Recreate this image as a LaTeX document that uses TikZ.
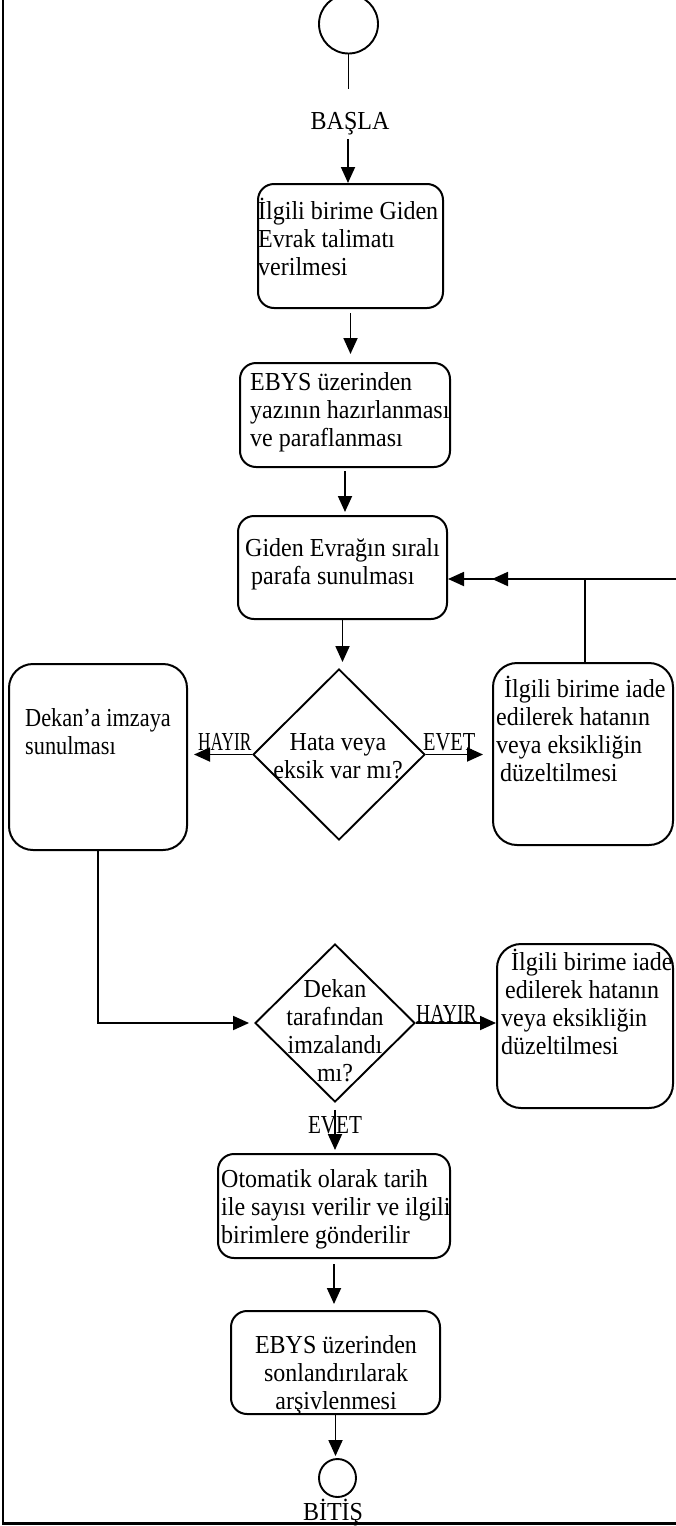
\documentclass[tikz,border=0pt]{standalone}
\usepackage{fontspec}
\usepackage{graphicx}
\setmainfont{Liberation Serif}
\usetikzlibrary{arrows.meta,shapes.geometric}
\newcommand{\TxtL}[1]{\scalebox{1}[1.08]{\begin{tabular}[t]{@{}l@{}}#1\end{tabular}}}
\newcommand{\TxtC}[1]{\scalebox{1}[1.08]{\begin{tabular}[t]{@{}c@{}}#1\end{tabular}}}
\newcommand{\Squeeze}[2]{\scalebox{#1}[1.08]{#2}}
\begin{document}
\begin{tikzpicture}[x=1pt,y=-1pt,
  font=\fontsize{24}{26}\selectfont,
  stepbox/.style={draw,line width=2pt,rounded corners=16pt,inner sep=0},
  bigbox/.style={draw,line width=2pt,rounded corners=24pt,inner sep=0},
  decision/.style={draw,diamond,line width=1.9pt,inner sep=0},
  terminal/.style={draw,ellipse,line width=1.9pt,inner sep=0},
  txt/.style={inner sep=0,anchor=base west},
  ctxt/.style={inner sep=0,anchor=base},
  conn/.style={line width=1.8pt},
  arr/.style={line width=1.8pt,-{Triangle[length=16pt,width=14pt]}}]
\useasboundingbox (0,0) rectangle (676,1526);

% frame
\coordinate (ftop) at (3,0);
\coordinate (fcorner) at (3,1523.5);
\coordinate (fright) at (676,1523.5);
\draw[line width=2.6pt] (ftop) -- (fcorner) -- (fright);

% start
\node[terminal,minimum width=59pt,minimum height=59pt] (start) at (348.5,24) {};
\coordinate (s1) at (348.5,89);
\node[ctxt] (basla) at (350,129) {\Squeeze{1}{BAŞLA}};
\coordinate (s2) at (348,139);

% box 1
\node[stepbox,minimum width=185pt,minimum height=124pt] (b1) at (350.5,246) {};
\node[txt] (t1) at (258,219) {\TxtL{İlgili birime Giden\\Evrak talimatı\\verilmesi}};

% box 2
\node[stepbox,minimum width=210pt,minimum height=104pt] (b2) at (345,415) {};
\node[txt] (t2) at (250,390) {\TxtL{EBYS üzerinden\\yazının hazırlanması\\ve paraflanması}};

% box 3
\node[stepbox,minimum width=209pt,minimum height=103pt] (b3) at (342.5,567.5) {};
\node[txt] (t3) at (245,556) {\TxtL{Giden Evrağın sıralı\\\hspace*{6pt}parafa sunulması}};

% decision 1
\node[decision,minimum width=172pt,minimum height=171pt] (d1) at (339,754.5) {};
\node[ctxt] (td1) at (338,750) {\TxtC{Hata veya\\eksik var mı?}};

% left box
\node[bigbox,minimum width=178pt,minimum height=186pt] (lb) at (98,757) {};
\node[txt] (tlb) at (25,726) {\scalebox{0.93}[1]{\TxtL{Dekan’a imzaya\\sunulması}}};

% right box 1
\node[bigbox,minimum width=180pt,minimum height=182pt] (rb1) at (583,754) {};
\node[txt] (trb1) at (496,697) {\TxtL{\hspace*{8pt}İlgili birime iade\\edilerek hatanın\\veya eksikliğin\\\hspace*{4pt}düzeltilmesi}};

% labels decision 1
\node[txt] (hayir1) at (198,750) {\Squeeze{0.72}{HAYIR}};
\node[txt] (evet1) at (423,750) {\Squeeze{0.85}{EVET}};

% decision 2
\node[decision,minimum width=160pt,minimum height=158pt] (d2) at (335,1023) {};
\node[ctxt] (td2) at (335,997) {\TxtC{Dekan\\tarafından\\imzalandı\\mı?}};
\node[txt] (hayir2) at (416,1022) {\Squeeze{0.82}{HAYIR}};

% right box 2
\node[bigbox,minimum width=176pt,minimum height=164pt] (rb2) at (585,1026) {};
\node[txt] (trb2) at (501,970) {\TxtL{\hspace*{10pt}İlgili birime iade\\\hspace*{4pt}edilerek hatanın\\veya eksikliğin\\düzeltilmesi}};

\node[ctxt] (evet2) at (335,1133) {\Squeeze{0.88}{EVET}};

% otomatik box
\node[stepbox,minimum width=232pt,minimum height=104pt] (ot) at (334,1206) {};
\node[txt] (tot) at (221,1187) {\TxtL{Otomatik olarak tarih\\ile sayısı verilir ve ilgili\\birimlere gönderilir}};

% final box
\node[stepbox,minimum width=209pt,minimum height=103pt] (fin) at (335.5,1362.5) {};
\node[ctxt] (tfin) at (336,1353) {\TxtC{EBYS üzerinden\\sonlandırılarak\\arşivlenmesi}};

% end
\node[terminal,minimum width=37pt,minimum height=38pt] (stop) at (337.5,1478) {};
\node[ctxt] (bitis) at (333,1520) {\Squeeze{1}{BİTİŞ}};

% connectors
\draw[conn] (start.south) -- (s1);
\draw[arr] (s2) -- (s2 |- b1.north);
\draw[arr,shorten <=4pt,shorten >=8pt] (b1.south) -- (b1.south |- b2.north);
\draw[arr,shorten <=3pt,shorten >=3pt] (b2.south) -- (b2.south |- b3.north);
\draw[arr,shorten >=6pt] (b3.south) -- (b3.south |- d1.north);
\draw[arr,shorten >=6pt] (d1.west) -- (d1.west -| lb.east);
\draw[arr,shorten >=9pt] (d1.east) -- (d1.east -| rb1.west);

\coordinate (fb) at (585,579);
\coordinate (fr) at (676,579);
\coordinate (fm) at (492,579);
\draw[arr] (rb1.north -| fb) -- (fb) -- (fb -| b3.east);
\draw[arr] (fr) -- (fm);

\draw[arr,shorten >=5pt] (lb.south) |- (d2.west);
\draw[arr] (d2.east) -- (d2.east -| rb2.west);
\draw[arr,shorten <=7pt,shorten >=3pt] (d2.south) -- (d2.south |- ot.north);
\draw[arr,shorten <=5pt,shorten >=6pt] (ot.south) -- (ot.south |- fin.north);
\draw[arr,shorten >=2pt] (fin.south) -- (fin.south |- stop.north);
\end{tikzpicture}
\end{document}
